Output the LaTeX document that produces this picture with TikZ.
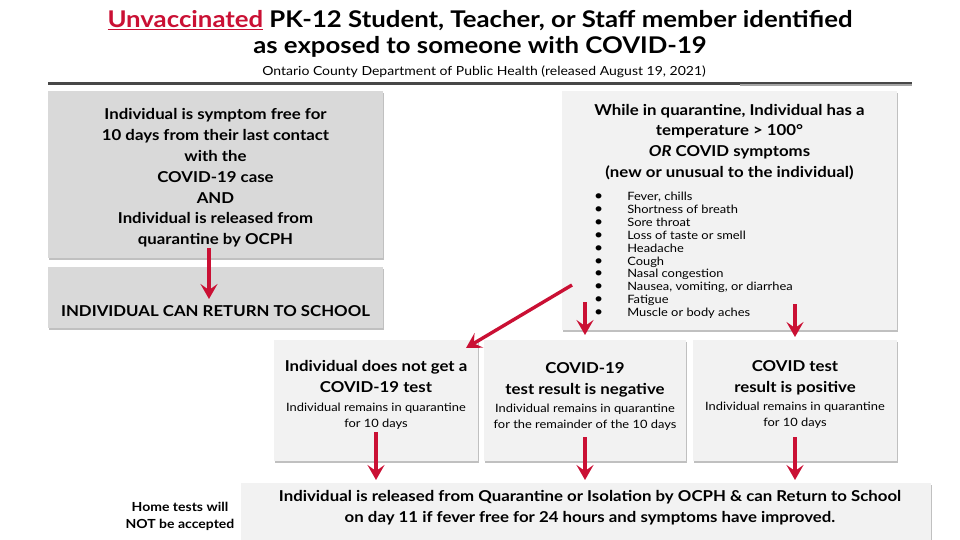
\documentclass[tikz,border=0pt]{standalone}
\usepackage{fontspec}
\setmainfont{Lato}[FakeStretch=1.12]
\usetikzlibrary{arrows.meta,shadows}
\definecolor{arrred}{HTML}{CA1034}
\definecolor{boxdark}{HTML}{D9D9D9}
\definecolor{boxlight}{HTML}{F2F2F2}
\newcommand{\bul}{\smash{\fontsize{14}{12}\selectfont\textbullet}}
\tikzset{
  box/.style={draw=none, rectangle, inner sep=0pt,
    drop shadow={shadow xshift=1.2pt, shadow yshift=-1.8pt, opacity=0.35, fill=black!70}},
  darkbox/.style={box, fill=boxdark},
  lightbox/.style={box, fill=boxlight},
  head/.style={align=center, inner sep=0pt, font=\bfseries\fontsize{15}{20.8}\selectfont},
  arr/.style={draw=arrred, line width=3.4pt, -{Stealth[length=15pt,width=17pt,inset=6pt]}},
}
\begin{document}
\begin{tikzpicture}[x=1pt,y=-1pt]
\useasboundingbox (0,0) rectangle (960,540);
\fill[white] (0,0) rectangle (960,540);
% title
\node[align=center, inner sep=0pt, font=\bfseries\fontsize{23}{26}\selectfont] (title) at (480,34)
  {{\color{arrred}\underline{Unvaccinated}} PK-12 Student, Teacher, or Staff member identified\\ as exposed to someone with COVID-19};
\node[inner sep=0pt, font=\fontsize{12.5}{15}\selectfont] (sub) at (484,72) {Ontario County Department of Public Health (released August 19, 2021)};
\fill[black!72] (48,82.5) rectangle (912,85.5);
\fill[black!35] (740,84.5) rectangle (912,86);
% left boxes
\node[darkbox, minimum width=335pt, minimum height=167pt] (free) at (215.5,174.5) {};
\node[head] (freet) at (215.5,178) {Individual is symptom free for\\ 10 days from their last contact\\ with the\\ COVID-19 case\\ AND\\ Individual is released from\\ quarantine by OCPH};
\node[darkbox, minimum width=335pt, minimum height=61pt] (ret) at (215.5,297.5) {};
\node[head] (rett) at (215.5,311) {INDIVIDUAL CAN RETURN TO SCHOOL};
% right box
\node[lightbox, minimum width=335pt, minimum height=239pt] (sym) at (729.5,210.5) {};
\node[head] (symt) at (729.5,142) {While in quarantine, Individual has a\\ temperature > 100°\\ {\bfseries\itshape OR} COVID symptoms\\ (new or unusual to the individual)};
\node[anchor=west, inner sep=0pt, font=\fontsize{11.5}{12.9}\selectfont] (list) at (594,256)
  {\begin{tabular}{@{}l@{\hspace{24pt}}l@{}}
   \bul & Fever, chills\\
   \bul & Shortness of breath\\
   \bul & Sore throat\\
   \bul & Loss of taste or smell\\
   \bul & Headache\\
   \bul & Cough\\
   \bul & Nasal congestion\\
   \bul & Nausea, vomiting, or diarrhea\\
   \bul & Fatigue\\
   \bul & Muscle or body aches
   \end{tabular}};
% middle boxes
\node[lightbox, minimum width=204pt, minimum height=121pt] (notest) at (376,400.5) {};
\node[lightbox, minimum width=202pt, minimum height=121pt] (neg) at (585,400.5) {};
\node[lightbox, minimum width=204pt, minimum height=121pt] (pos) at (795,400.5) {};
\node[head] (notestt) at (376,395) {Individual does not get a\\ COVID-19 test\\[-2pt] {\mdseries\fontsize{11.5}{16}\selectfont Individual remains in quarantine}\\[-5pt] {\mdseries\fontsize{11.5}{16}\selectfont for 10 days}};
\node[head] (negt) at (585,396.5) {COVID-19\\ test result is negative\\[-2pt] {\mdseries\fontsize{11.5}{16}\selectfont Individual remains in quarantine}\\[-5pt] {\mdseries\fontsize{11.5}{16}\selectfont for the remainder of the 10 days}};
\node[head] (post) at (795,394.5) {COVID test\\ result is positive\\[-2pt] {\mdseries\fontsize{11.5}{16}\selectfont Individual remains in quarantine}\\[-5pt] {\mdseries\fontsize{11.5}{16}\selectfont for 10 days}};
% bottom box
\node[lightbox, minimum width=690pt, minimum height=70pt] (rel) at (586,518) {};
\node[head, font=\bfseries\fontsize{15}{21}\selectfont] (relt) at (590,508) {Individual is released from Quarantine or Isolation by OCPH \& can Return to School\\ on day 11 if fever free for 24 hours and symptoms have improved.};
\node[align=center, inner sep=0pt, font=\bfseries\fontsize{12.5}{17}\selectfont] (home) at (180,516) {Home tests will\\ NOT be accepted};
% arrow coordinates
\coordinate (a1s) at (209,248); \coordinate (a1e) at (209,299);
\coordinate (a2s) at (572,285); \coordinate (a2e) at (466,348);
\coordinate (a3s) at (585,302); \coordinate (a3e) at (585,335);
\coordinate (a4s) at (795,304); \coordinate (a4e) at (795,337);
\coordinate (a5s) at (376,432); \coordinate (a5e) at (376,480);
\coordinate (a6s) at (585,437); \coordinate (a6e) at (585,480);
\coordinate (a7s) at (795,437); \coordinate (a7e) at (795,480);
\draw[arr] (a1s) -- (a1e);
\draw[arr] (a2s) -- (a2e);
\draw[arr] (a3s) -- (a3e);
\draw[arr] (a4s) -- (a4e);
\draw[arr] (a5s) -- (a5e);
\draw[arr] (a6s) -- (a6e);
\draw[arr] (a7s) -- (a7e);
\end{tikzpicture}
\end{document}
